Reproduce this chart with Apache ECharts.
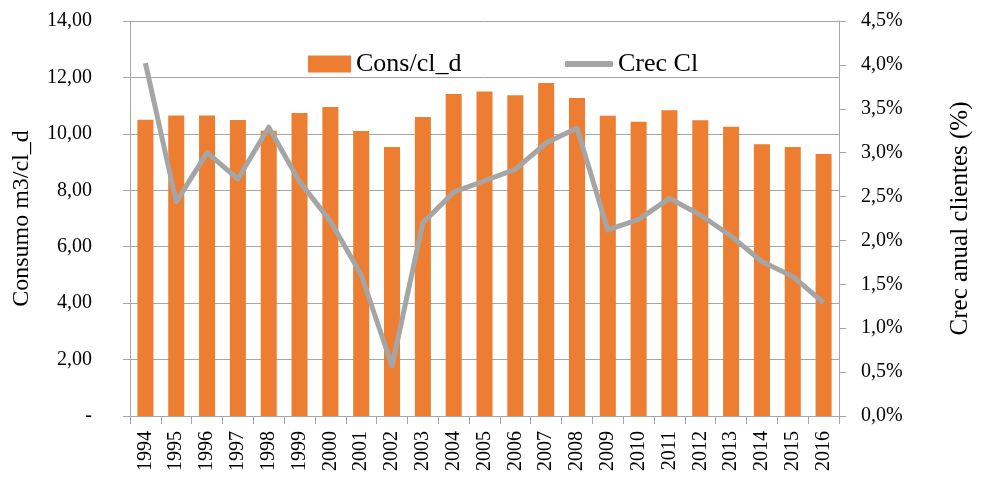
<!DOCTYPE html>
<html>
<head>
<meta charset="utf-8">
<script src="https://cdn.jsdelivr.net/npm/echarts@6/dist/echarts.min.js"></script>
<style>html,body{margin:0;padding:0;background:#fff;overflow:hidden}#c{width:981px;height:481px}</style>
</head>
<body>
<div id="c"></div>
<script>
const years = ['1994','1995','1996','1997','1998','1999','2000','2001','2002','2003','2004','2005','2006','2007','2008','2009','2010','2011','2012','2013','2014','2015','2016'];
const consumo = [10.50,10.65,10.65,10.49,10.11,10.74,10.95,10.10,9.53,10.60,11.41,11.50,11.37,11.80,11.27,10.64,10.43,10.84,10.48,10.25,9.63,9.53,9.29];
const crecimiento = [4.02,2.44,3.00,2.70,3.29,2.67,2.22,1.61,0.57,2.20,2.55,2.68,2.81,3.11,3.28,2.12,2.24,2.48,2.29,2.05,1.76,1.59,1.29];
const leftTitle = 'Consumo m3/cl_d';
const rightTitle = 'Crec anual clientes (%)';

const FONT = 'Liberation Serif';
const gridCol = '#a6a6a6';
const chart = echarts.init(document.getElementById('c'), null, {renderer:'canvas'});
chart.setOption({
  animation: false,
  textStyle: {fontFamily: FONT, color: '#000'},
  grid: {left: 130, right: 134, top: 21, bottom: 65, containLabel: false},
  legend: [
    {data: [{name: 'Cons/cl_d', icon: 'rect'}], left: 303, top: 46, itemWidth: 43, itemHeight: 17, itemGap: 8,
     textStyle: {fontFamily: FONT, fontSize: 26, color: '#000'}},
    {data: [{name: 'Crec Cl', icon: 'roundRect'}], left: 560, top: 46, itemWidth: 48, itemHeight: 6, itemGap: 4,
     textStyle: {fontFamily: FONT, fontSize: 26, color: '#000'}}
  ],
  xAxis: {
    type: 'category', data: years, boundaryGap: true,
    axisLine: {lineStyle: {color: gridCol, width: 1}},
    axisTick: {show: true, length: 8, lineStyle: {color: gridCol}},
    axisLabel: {rotate: 90, margin: 15, fontSize: 20, color: '#000', fontFamily: FONT, interval: 0}
  },
  yAxis: [
    {type: 'value', min: 0, max: 14, interval: 2,
     name: leftTitle, nameLocation: 'middle', nameRotate: 90, nameGap: 96,
     nameTextStyle: {fontSize: 24, fontFamily: FONT, color: '#000'},
     axisLine: {show: true, lineStyle: {color: gridCol}},
     axisTick: {show: true, length: 7, lineStyle: {color: gridCol}},
     splitLine: {show: true, lineStyle: {color: gridCol, width: 1}},
     axisLabel: {margin: 38, fontSize: 20, color: '#000', fontFamily: FONT,
       formatter: v => v === 0 ? '-' : v.toFixed(2).replace('.', ',')}
    },
    {type: 'value', min: 0, max: 4.5, interval: 0.5, position: 'right',
     name: rightTitle, nameLocation: 'middle', nameRotate: 90, nameGap: 109,
     nameTextStyle: {fontSize: 25, fontFamily: FONT, color: '#000'},
     axisLine: {show: true, lineStyle: {color: gridCol}},
     axisTick: {show: true, length: 7, lineStyle: {color: gridCol}},
     splitLine: {show: false},
     axisLabel: {margin: 22, fontSize: 20, color: '#000', fontFamily: FONT,
       formatter: v => v.toFixed(1).replace('.', ',') + '%'}
    }
  ],
  series: [
    {name: 'Cons/cl_d', type: 'bar', data: consumo, yAxisIndex: 0, barWidth: '52%',
     itemStyle: {color: '#ED7D31'}, z: 2},
    {name: 'Crec Cl', type: 'line', data: crecimiento, yAxisIndex: 1, symbol: 'none', showSymbol: false,
     lineStyle: {color: '#A5A5A5', width: 5, join: 'round'}, itemStyle: {color: '#A5A5A5'}, z: 3}
  ]
});
</script>
</body>
</html>
